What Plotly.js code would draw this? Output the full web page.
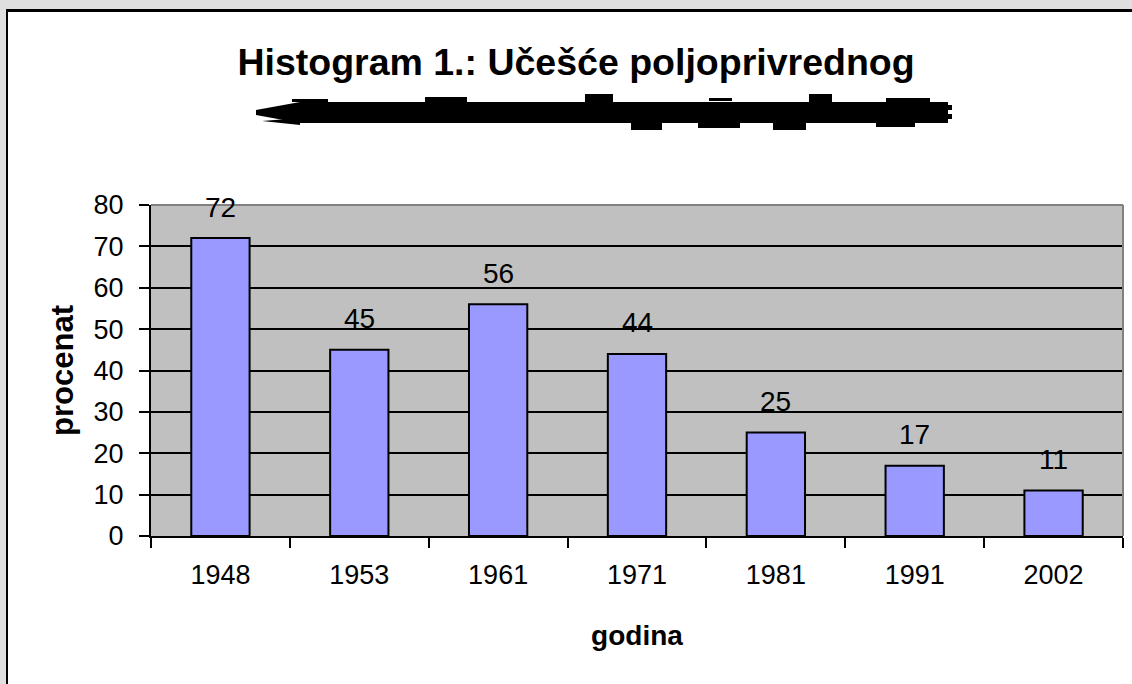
<!DOCTYPE html>
<html>
<head>
<meta charset="utf-8">
<script src="https://cdn.plot.ly/plotly-3.0.1.min.js"></script>
<style>
  html, body { margin: 0; padding: 0; width: 1132px; height: 684px; overflow: hidden; background: #dfdfdf; }
  #frame { position: absolute; left: 6px; top: 9px; width: 1126px; height: 675px; background: #ffffff;
           border-left: 2px solid #000; border-top: 3px solid #000; box-sizing: border-box; }
  #chart { position: absolute; left: 0; top: 0; width: 1132px; height: 684px; }
</style>
</head>
<body>
<div id="frame"></div>
<div id="chart"></div>
<script>
// ---- data ----
const years = ["1948", "1953", "1961", "1971", "1981", "1991", "2002"];
const percent = [72, 45, 56, 44, 25, 17, 11];
const yTicks = [0, 10, 20, 30, 40, 50, 60, 70, 80];

const chartTitle = "Histogram 1.: Učešće poljoprivrednog";
const xTitle = "godina";
const yTitle = "procenat";

// ---- layout geometry (pixels of the 1132x684 page) ----
const W = 1132, H = 684;
const M = { l: 151, r: 9, t: 205, b: 148 };
const pw = W - M.l - M.r, ph = H - M.t - M.b;
const px = x => (x - M.l) / pw;
const py = y => (H - M.b - y) / ph;

const FONT = "Liberation Sans, Arial, sans-serif";

// garbled (illegible) second title line, drawn as black smear shapes
function rectShape(x0, y0, x1, y1) {
  return { type: "rect", xref: "paper", yref: "paper", x0: px(x0), x1: px(x1), y0: py(y1), y1: py(y0),
           fillcolor: "#000", line: { width: 0 }, layer: "above" };
}
function pathShape(pts) {
  const d = pts.map((p, i) => (i ? "L" : "M") + px(p[0]).toFixed(5) + "," + py(p[1]).toFixed(5)).join(" ") + " Z";
  return { type: "path", xref: "paper", yref: "paper", path: d, fillcolor: "#000", line: { width: 0 }, layer: "above" };
}
const garble = [
  pathShape([[256, 110], [300, 102], [948, 102], [948, 123], [300, 123], [256, 115]]),
  pathShape([[262, 121], [300, 118], [300, 125]]),
  rectShape(292, 99, 328, 102),
  rectShape(425, 97, 467, 102),
  rectShape(585, 94, 613, 102),
  rectShape(709, 98, 732, 101),
  rectShape(809, 94, 832, 102),
  rectShape(886, 98, 930, 102),
  rectShape(631, 123, 662, 130),
  rectShape(698, 123, 740, 128),
  rectShape(773, 123, 806, 130),
  rectShape(876, 123, 915, 127),
  rectShape(945, 105, 952, 110),
  rectShape(945, 114, 952, 119)
];

// plot-area top and right border in grey
const border = [
  { type: "line", xref: "paper", yref: "paper", x0: 0, x1: 1, y0: 1, y1: 1, line: { color: "#808080", width: 2 }, layer: "above" },
  { type: "line", xref: "paper", yref: "paper", x0: 1, x1: 1, y0: 0, y1: 1, line: { color: "#808080", width: 2 }, layer: "above" }
];

const trace = {
  type: "bar",
  x: years,
  y: percent,
  marker: { color: "#9999ff", line: { color: "#000000", width: 2 } },
  hoverinfo: "x+y"
};

// value labels above bars (x given as category index)
const labels = years.map((yr, i) => ({
  x: i, y: percent[i], xref: "x", yref: "y", text: String(percent[i]),
  showarrow: false, yshift: 31, yanchor: "middle",
  font: { family: FONT, size: 28, color: "#000" }
}));

const layout = {
  width: W, height: H,
  margin: M,
  paper_bgcolor: "rgba(0,0,0,0)",
  plot_bgcolor: "#c0c0c0",
  showlegend: false,
  bargap: 0.58,
  font: { family: FONT, color: "#000" },
  title: {
    text: "<b>" + chartTitle + "</b>",
    font: { family: FONT, size: 37.5, color: "#000" },
    xref: "container", x: 576 / W, xanchor: "center",
    yref: "container", y: 1 - 62 / H, yanchor: "middle"
  },
  xaxis: {
    type: "category",
    categoryorder: "array", categoryarray: years,
    range: [-0.5, years.length - 0.5],
    title: { text: "<b>" + xTitle + "</b>", font: { family: FONT, size: 28 }, standoff: 36 },
    tickfont: { family: FONT, size: 27 },
    tickangle: 0,
    showline: true, linecolor: "#000", linewidth: 2,
    ticks: "outside", tickson: "boundaries", ticklen: 10, tickwidth: 2, tickcolor: "#000",
    ticklabelstandoff: 14,
    showgrid: false, automargin: false
  },
  yaxis: {
    range: [0, 80],
    tickvals: yTicks,
    title: { text: "<b>" + yTitle + "</b>", font: { family: FONT, size: 31 }, standoff: 11 },
    tickfont: { family: FONT, size: 27 },
    showline: true, linecolor: "#000", linewidth: 2,
    ticks: "outside", ticklen: 10, tickwidth: 2, tickcolor: "#000",
    ticklabelstandoff: 10,
    showgrid: true, gridcolor: "#000", gridwidth: 2,
    zeroline: false, automargin: false
  },
  annotations: labels,
  shapes: border.concat(garble)
};

Plotly.newPlot("chart", [trace], layout, { displayModeBar: false, staticPlot: true });
</script>
</body>
</html>
